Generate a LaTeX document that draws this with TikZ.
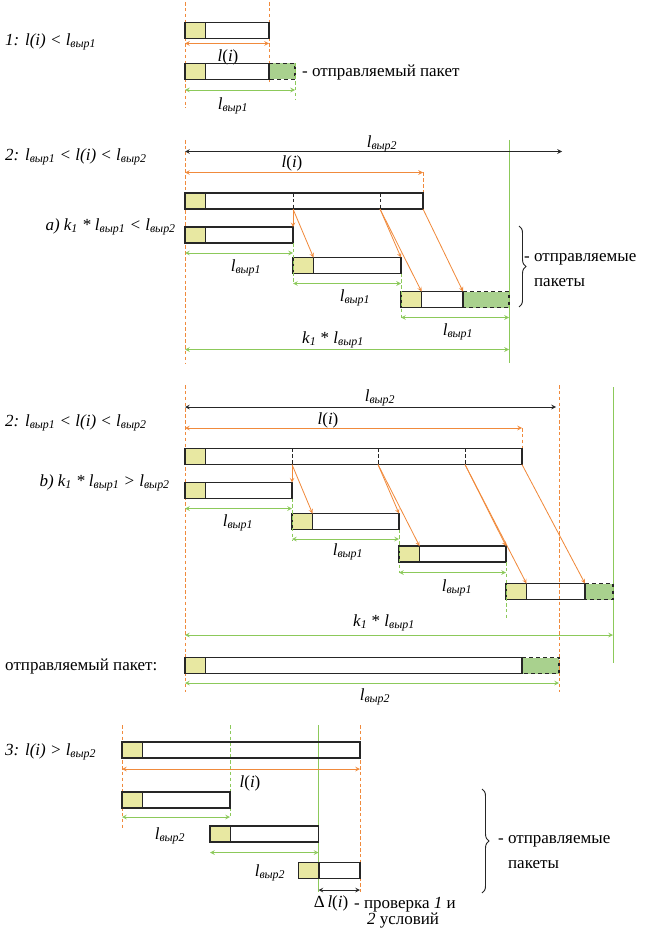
\documentclass[tikz,border=0pt]{standalone}
\usepackage{fontspec}
\setmainfont{Liberation Serif}
\usetikzlibrary{arrows, calc, decorations.pathreplacing}
\definecolor{chern}{HTML}{262626}
\definecolor{oranzh}{HTML}{F08A3C}
\definecolor{zelen}{HTML}{8CC95A}
\definecolor{zheltyj}{HTML}{E8E8A2}
\definecolor{dopzel}{HTML}{A9D18E}
\tikzset{
  ramka/.style={draw=chern, line width=1.6pt},
  shapka/.style={fill=zheltyj},
  dobavka/.style={fill=dopzel},
  dobramka/.style={draw=chern, line width=1.6pt, dashed},
  orlinia/.style={draw=oranzh, densely dashed, line width=0.6pt},
  zelinia/.style={draw=zelen, line width=0.8pt},
  zeldash/.style={draw=zelen, densely dashed, line width=0.7pt},
  orstrel/.style={draw=oranzh, line width=0.7pt, ->, >=stealth},
  razmor/.style={draw=oranzh, line width=0.8pt, <->, >=stealth},
  razmzel/.style={draw=zelen, line width=0.8pt, <->, >=stealth},
  razmch/.style={draw=chern, line width=0.8pt, <->, >=stealth},
  delenie/.style={draw=chern, densely dashed, line width=0.6pt},
  metka/.style={font=\fontsize{14.5}{16}\selectfont, inner sep=1pt},
  uslovie/.style={font=\fontsize{14.5}{16}\selectfont\itshape, inner sep=0pt, anchor=west},
  tekst/.style={font=\fontsize{14.5}{22}\selectfont, inner sep=0pt, anchor=west, align=left},
  skobka/.style={draw=chern, line width=0.8pt, decorate, decoration={brace, amplitude=6pt}}
}
\newcommand{\lvyr}[1]{\textit{l}\textsubscript{\textit{выр#1}}}
\newcommand{\lii}{\textit{l}(\textit{i})}
\newcommand{\kodin}{\textit{k}\textsubscript{\textit{1}}}
% packet: name, left x, top y, end of data, end of padding
\newcommand{\paket}[5]{%
  \fill[dobavka] (#4,#3) rectangle (#5,#3+16);
  \draw[dobramka] (#4,#3) -- (#5,#3) -- (#5,#3+16) -- (#4,#3+16);
  \fill[shapka] (#2,#3) rectangle (#2+20.5,#3+16);
  \draw[ramka] (#2,#3) rectangle (#4,#3+16);
  \draw[ramka] (#2+20.5,#3) -- (#2+20.5,#3+16);
  \coordinate (#1-l) at (#2,#3);
  \coordinate (#1-h) at (#2+20.5,#3);
  \coordinate (#1-e) at (#4,#3);
  \coordinate (#1-eb) at (#4,#3+16);
  \coordinate (#1-p) at (#5,#3);
}

\begin{document}
\begin{tikzpicture}[x=0.03cm, y=-0.03cm]
  \useasboundingbox (0,0) rectangle (647,933);

  % 1: l(i) < l_vyr1
  \node (usl1) [uslovie] at (5,42) {1: \lii{} < \lvyr{1}};
  \draw [orlinia] (185,2) -- (185,108);
  \draw [orlinia] (269,2) -- (269,84);
  \paket{ia}{185}{22.5}{269}{269}
  \draw [razmor] (185,43.5) -- (269,43.5);
  \node (lia) [metka] at (228,57) {\lii};
  \paket{ib}{185}{63.5}{269}{295}
  \draw [zeldash] (ib-p) -- (295,100);
  \draw [razmzel] (185,90) -- (295,90);
  \node (lvia) [metka] at (233,106) {\lvyr{1}};
  \node (otp1) [tekst] at (302,72) {- отправляемый пакет};

  % 2a
  \node (usl2a) [uslovie] at (5,157) {2: \lvyr{1} < \lii{} < \lvyr{2}};
  \node (usl2aa) [uslovie, anchor=east] at (176,227) {a) \kodin{} * \lvyr{1} < \lvyr{2}};
  \draw [orlinia] (185,140) -- (185,363);
  \draw [zelinia] (509,140) -- (509,363);
  \draw [razmch] (185,151.5) -- (562,151.5);
  \node (lv2a) [metka] at (382,144) {\lvyr{2}};
  \draw [razmor] (185,172.5) -- (423,172.5);
  \node (li2a) [metka] at (292,163) {\lii};
  \draw [orlinia] (423,172.5) -- (423,193);
  \paket{a0}{185}{193}{423}{423}
  \coordinate (a0-d1) at (293,209);
  \coordinate (a0-d2) at (380,209);
  \draw [delenie] (293,193) -- (a0-d1);
  \draw [delenie] (380,193) -- (a0-d2);
  \paket{a1}{185}{227}{293}{293}
  \paket{a2}{293}{257.5}{401}{401}
  \paket{a3}{401}{291.5}{463}{509}
  \draw [orstrel] (a0-d1) -- (a1-e);
  \draw [orstrel] (a0-d1) -- (a2-h);
  \draw [orstrel] (a0-d2) -- (a2-e);
  \draw [orstrel] (a0-d2) -- (a3-h);
  \draw [orstrel] (a0-eb) -- (a3-e);
  \draw [zeldash] (a1-eb) -- (293,284);
  \draw [zeldash] (a2-eb) -- (401,318);
  \draw [razmzel] (185,253) -- (293,253);
  \node (lva1) [metka] at (246,268) {\lvyr{1}};
  \draw [razmzel] (293,283.5) -- (401,283.5);
  \node (lva2) [metka] at (355,298) {\lvyr{1}};
  \draw [razmzel] (401,317.5) -- (509,317.5);
  \node (lva3) [metka] at (458,332) {\lvyr{1}};
  \draw [razmzel] (185,349.5) -- (509,349.5);
  \node (ka) [metka] at (333,340) {\kodin{} * \lvyr{1}};
  \draw [skobka] (519,226) -- (519,307);
  \node (otp2a) [tekst] at (524,270) {- отправляемые\\\phantom{- }пакеты};

  % 2b
  \node (usl2b) [uslovie] at (5,423) {2: \lvyr{1} < \lii{} < \lvyr{2}};
  \node (usl2bb) [uslovie, anchor=east] at (170,483) {b) \kodin{} * \lvyr{1} > \lvyr{2}};
  \draw [orlinia] (185,385) -- (185,692);
  \draw [orlinia, line width=0.8pt] (559,385) -- (559,692);
  \draw [zelinia] (613,387) -- (613,663);
  \draw [razmch] (185,407) -- (556,407);
  \node (lv2b) [metka] at (380,398) {\lvyr{2}};
  \draw [razmor] (185,428) -- (522,428);
  \node (li2b) [metka] at (328,420) {\lii};
  \draw [orlinia] (522,428) -- (522,448.5);
  \paket{b0}{185}{448.5}{522}{522}
  \coordinate (b0-d1) at (292,464.5);
  \coordinate (b0-d2) at (378,464.5);
  \coordinate (b0-d3) at (465,464.5);
  \draw [delenie] (292,448.5) -- (b0-d1);
  \draw [delenie] (378,448.5) -- (b0-d2);
  \draw [delenie] (465,448.5) -- (b0-d3);
  \paket{b1}{185}{482.5}{292}{292}
  \paket{b2}{292}{513.5}{399}{399}
  \paket{b3}{399}{546}{506}{506}
  \paket{b4}{506}{583.5}{585}{613}
  \draw [orstrel] (b0-d1) -- (b1-e);
  \draw [orstrel] (b0-d1) -- (b2-h);
  \draw [orstrel] (b0-d2) -- (b2-e);
  \draw [orstrel] (b0-d2) -- (b3-h);
  \draw [orstrel] (b0-d3) -- (b3-e);
  \draw [orstrel] (b0-d3) -- (b4-h);
  \draw [orstrel] (b0-eb) -- (b4-e);
  \draw [zeldash] (b1-eb) -- (292,540);
  \draw [zeldash] (b2-eb) -- (399,573);
  \draw [zeldash] (b3-eb) -- (506,620);
  \draw [razmzel] (185,508.5) -- (292,508.5);
  \node (lvb1) [metka] at (238,523) {\lvyr{1}};
  \draw [razmzel] (292,539) -- (399,539);
  \node (lvb2) [metka] at (348,552) {\lvyr{1}};
  \draw [razmzel] (399,572.5) -- (506,572.5);
  \node (lvb3) [metka] at (457,588) {\lvyr{1}};
  \draw [razmzel] (185,635) -- (613,635);
  \node (kb) [metka] at (384,623) {\kodin{} * \lvyr{1}};
  \node (otpb) [tekst] at (5,666) {отправляемый пакет:};
  \paket{bo}{185}{657.5}{522}{559}
  \draw [razmzel] (185,683) -- (559,683);
  \node (lvbo) [metka] at (375,697) {\lvyr{2}};

  % 3: l(i) > l_vyr2
  \node (usl3) [uslovie] at (5,752) {3: \lii{} > \lvyr{2}};
  \draw [orlinia] (122,725) -- (122,828);
  \draw [orlinia] (360,725) -- (360,892);
  \draw [zeldash] (230,725) -- (230,817);
  \draw [zelinia] (318.5,725) -- (318.5,892);
  \paket{c0}{122}{742}{360}{360}
  \draw [razmor] (122,769) -- (360,769);
  \node (lic) [metka] at (250,783) {\lii};
  \paket{c1}{122}{792}{230}{230}
  \paket{c2}{210}{826}{318.5}{318.5}
  \paket{c3}{298.5}{862.5}{360}{360}
  \draw [razmzel] (122,817) -- (230,817);
  \node (lvc1) [metka] at (170,836) {\lvyr{2}};
  \draw [razmzel] (210,852.5) -- (318.5,852.5);
  \node (lvc2) [metka] at (270,873) {\lvyr{2}};
  \draw [razmch] (318.5,890) -- (360,890);
  \node (dl) [metka, inner sep=0pt] at (331,903) {Δ\,\lii};
  \node (prov) [tekst, anchor=north west, font=\fontsize{14.5}{12}\selectfont] at (354,897) {- проверка \textit{1} и\\\hspace{11pt}\textit{2} условий};
  \draw [skobka] (482,789) -- (482,893);
  \node (otp3) [tekst] at (498,852) {- отправляемые\\\phantom{- }пакеты};
\end{tikzpicture}
\end{document}
